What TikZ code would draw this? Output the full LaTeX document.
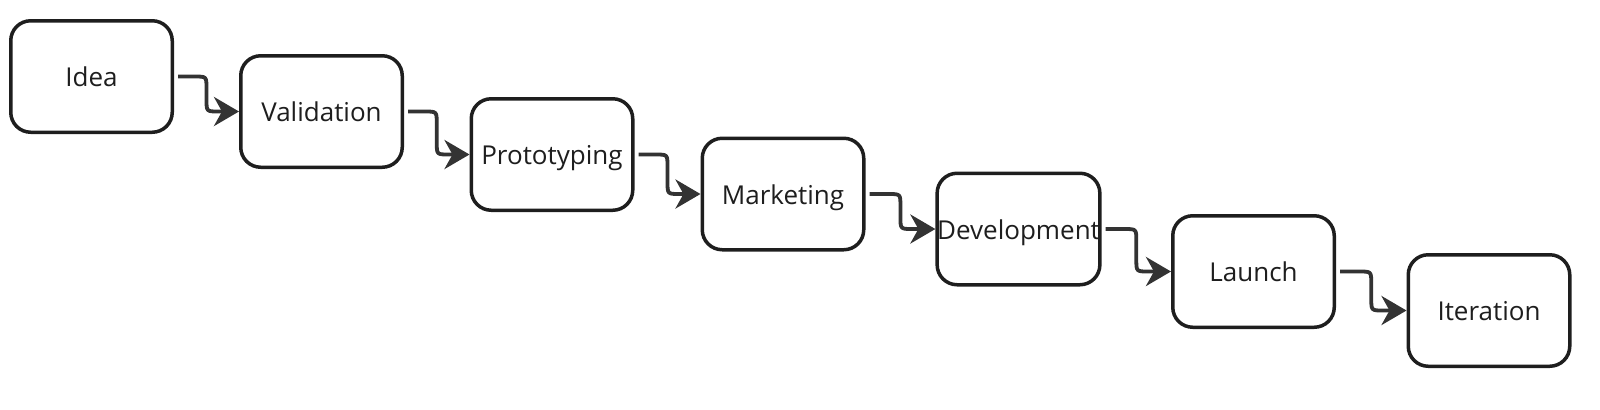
\documentclass[tikz,border=0pt]{standalone}
\usepackage{fontspec}
\setmainfont{Open Sans}
\usetikzlibrary{arrows.meta,calc}
\definecolor{boxline}{HTML}{1E1E1E}
\definecolor{arrowline}{HTML}{333333}
\tikzset{
  stage/.style={draw=boxline, line width=1.75pt, rounded corners=10pt, fill=white,
    minimum width=80.75pt, minimum height=55.75pt, inner sep=0pt,
    text height=12pt, text depth=1.6pt,
    font=\fontsize{13}{15}\selectfont, text=boxline},
  conn/.style={draw=arrowline, line width=1.9pt, line join=round,
    -{Stealth[length=12.5pt,width=14.5pt,inset=4pt]}}
}
\newcommand{\linkstages}[2]{%
  \coordinate (#1-s) at ([xshift=2pt]#1.east);
  \coordinate (#1-m) at ($(#1.east)!0.5!(#2.west)$);
  \coordinate (#1-a) at (#1-m |- #1-s);
  \coordinate (#1-b) at (#1-m |- #2.west);
  \draw[conn] (#1-s) -- ($(#1-a)+(-12,0)$) .. controls (#1-a) .. ($(#1-a)+(0,12)$)
    -- ($(#1-b)+(0,-12)$) .. controls (#1-b) .. ($(#1-b)+(12,0)$) -- (#2.west);}
\begin{document}
\begin{tikzpicture}[x=0.5pt,y=-0.5pt]
\useasboundingbox (0,0) rectangle (1600,409);
\node[stage] (idea) at (91.5,76.5) {Idea};
\node[stage] (val) at (321.5,111.5) {Validation};
\node[stage] (proto) at (552,154.5) {Prototyping};
\node[stage] (mkt) at (783,194) {Marketing};
\node[stage] (dev) at (1018.5,229) {Development};
\node[stage] (launch) at (1253.5,271.5) {Launch};
\node[stage] (iter) at (1489,310.5) {Iteration};
\linkstages{idea}{val}
\linkstages{val}{proto}
\linkstages{proto}{mkt}
\linkstages{mkt}{dev}
\linkstages{dev}{launch}
\linkstages{launch}{iter}
\end{tikzpicture}
\end{document}
